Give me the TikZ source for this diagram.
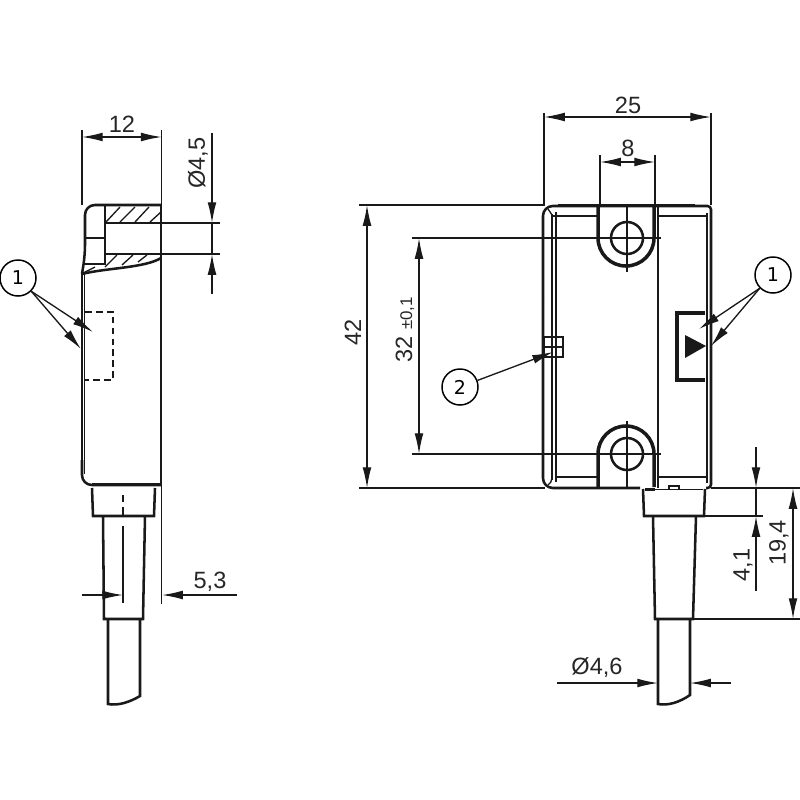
\documentclass[tikz,border=0pt]{standalone}
\usepackage{fontspec}
\setmainfont{Liberation Sans}
\newfontfamily\callfont{DejaVu Sans}
\usetikzlibrary{arrows.meta}
\tikzset{
 dimtip/.tip={Latex[length=5.9pt,width=2.5pt]},
 thinline/.style={line width=0.38pt,black!90},
 dimline/.style={line width=0.38pt,black!90},
 outline/.style={line width=0.72pt,black!90},
 heavy/.style={line width=1pt,black!90},
 dimtext/.style={font=\fontsize{6.7pt}{8pt}\selectfont,inner sep=0pt,text=black!85},
 callout/.style={draw,circle,line width=0.42pt,minimum size=0.36cm,inner sep=0pt,font=\callfont\fontsize{5.4pt}{6pt}\selectfont},
}
\begin{document}
\begin{tikzpicture}[x=0.01cm,y=-0.01cm]
\useasboundingbox(0,0)rectangle(800,800);

% side view
\draw[outline,rounded corners=2.8pt](82,274)--(85,255)--(85,205)--(161,205);
\draw[outline](82,274)--(82,470);
\draw[thinline](84.5,274)--(84.5,474);
\draw[outline,rounded corners=2.8pt](82,460)--(82,485)--(161,485);
\draw[outline](161,205)--(161,485);
\draw[thinline](92,483.5)--(160,483.5);
\draw[outline](105,205)--(105,264)--(84,264);
\draw[outline](105,223)--(161,223);
\draw[outline](105,254)--(161,254);
\draw[thinline](86,238)--(105,238);
\draw[outline](82,274).. controls(105,268)and(145,268)..(161,258);
\foreach\a/\b/\c/\d in{106/222/120/207,120/222/135/207,135/222/149/207,150/222/161/212,105/267/117/255,122/265/133/255,138/262/147/255,83/273/95/267}
 \draw[thinline](\a,\b)--(\c,\d);
\draw[thinline,dash pattern=on 1.9pt off 1.2pt](85,312)--(113,312)--(113,380)--(85,380);

% side view, cable
\draw[outline](92,488)--(93,516)--(154,516)--(155,488);
\draw[outline](103,516)--(104,619)--(143,619)--(145,516);
\draw[outline](108,619)--(108,704).. controls(118,706)and(130,702)..(140,696)--(140,619);
\draw[thinline,dash pattern=on 2pt off 1.4pt on 2.8pt off 2.6pt on 22pt](123,495)--(123,604);
\draw[thinline](161.7,485)--(161.7,604);

% front view
\draw[outline,rounded corners=2.8pt](600,206)--(543,206)--(543,300);
\draw[outline,rounded corners=2.8pt](543,300)--(543,488)--(640,488);
\draw[outline,rounded corners=1pt](600,206)--(711,206)--(711,488)--(706,488);
\draw[thinline](707,213)--(707,483);
\draw[heavy](558,205.5)--(695,205.5);
\draw[thinline](552,214)--(552,480);
\draw[thinline](556,212)--(556,482);
\draw[thinline](658,206)--(658,488);
\draw[thinline](552,215).. controls(550,212)and(549,210)..(548,209);
\draw[thinline](552,478).. controls(552,481)and(550,484)..(548,485);
\foreach\a/\b/\c in{552/598/216,658/707/216,556/598/477,658/707/477}
 \draw[thinline](\a,\c)--(\b,\c);
\draw[heavy](598,206)--(598,238)arc[start angle=180,end angle=0,radius=28]--(654,206);
\draw[heavy](598,487)--(598,454)arc[start angle=180,end angle=360,radius=28]--(654,487);
\foreach\y in{238,454}
 \draw[outline](627,\y)circle[radius=16];
\draw[thinline](627,206)--(627,272);
\draw[thinline](627,421)--(627,487);

% indicator and notch
\draw[heavy,line width=1.1pt](705,313)--(677,313)--(677,380)--(705,380);
\fill[black!90](685,335)--(685,358)--(706,346)--cycle;
\draw[outline](544,337)rectangle(563,357);
\draw[thinline](544,347)--(563,347);

% front view, cable
\draw[outline](643,489)--(644,516)--(704,516)--(705,489);
\draw[thinline](655,489.5)--(703,489.5);
\draw[heavy](645,489.5)--(655,489.5);
\draw[thinline](669,489)--(669,486)--(679,486)--(679,489);
\draw[outline](653,516)--(655,619)--(693,619)--(696,516);
\draw[outline](658,619)--(658,704).. controls(668,706)and(680,702)..(690,695)--(690,619);

% dimensions, side view
\draw[thinline](82,130)--(82,205);
\draw[thinline](161.7,130)--(161.7,205);
\draw[dimline,dimtip-dimtip](82,137)--(161.7,137);
\node[dimtext](lblTwelve)at(122,124){12};
\draw[thinline](161,223)--(220,223);
\draw[thinline](161,254)--(220,254);
\draw[dimline,-dimtip](212,133)--(212,223);
\draw[dimline,-dimtip](212,294)--(212,254);
\draw[dimline](212,223)--(212,254);
\node[dimtext,rotate=90](lblBore)at(198,163){Ø4,5};
\draw[dimline,-dimtip](82,595)--(123,595);
\draw[dimline,-dimtip](237,595)--(162,595);
\node[dimtext](lblOffset)at(210,582){5,3};

% dimensions, front view
\draw[thinline](544,113)--(544,205);
\draw[thinline](711,113)--(711,205);
\draw[dimline,dimtip-dimtip](544,117)--(711,117);
\node[dimtext](lblWidth)at(628,105){25};
\draw[thinline](600,155)--(600,205);
\draw[thinline](655,155)--(655,205);
\draw[dimline,dimtip-dimtip](600,162)--(655,162);
\node[dimtext](lblLug)at(628,148){8};
\draw[thinline](359,205)--(545,205);
\draw[thinline](359,488)--(545,488);
\draw[dimline,dimtip-dimtip](367,205)--(367,488);
\node[dimtext,rotate=90](lblHeight)at(353,332){42};
\draw[thinline](412,238)--(661,238);
\draw[thinline](412,454)--(661,454);
\draw[dimline,dimtip-dimtip](419,238)--(419,454);
\node[dimtext,rotate=90](lblPitch)at(405,330){32 {\fontsize{4.8pt}{6pt}\selectfont±0,1}};
\draw[thinline](711,488)--(800,488);
\draw[thinline](704,516)--(763,516);
\draw[thinline](693,619)--(800,619);
\draw[dimline,-dimtip](756,447)--(756,488);
\draw[dimline,-dimtip](756,591)--(756,516);
\draw[dimline](756,488)--(756,516);
\node[dimtext,rotate=90](lblGland)at(743,565){4,1};
\draw[dimline,dimtip-dimtip](793,488)--(793,619);
\node[dimtext,rotate=90](lblStrain)at(779,543){19,4};
\draw[dimline,-dimtip](557,683)--(658,683);
\draw[dimline,-dimtip](731,683)--(690,683);
\node[dimtext](lblCable)at(597,668){Ø4,6};

% callouts
\node[callout](sideOne)at(18,278){1};
\node[callout](frontOne)at(773,275){1};
\node[callout](frontTwo)at(460,387){2};
\coordinate(sideLed)at(93,332);
\coordinate(sideWall)at(81,349);
\coordinate(frontLed)at(699,329);
\coordinate(frontWall)at(711,346);
\coordinate(notch)at(553,352);
\draw[dimline,-dimtip](sideOne.south east)--(sideLed);
\draw[dimline,-dimtip](sideOne.south east)--(sideWall);
\draw[dimline,-dimtip](frontOne.south west)--(frontLed);
\draw[dimline,-dimtip](frontOne.south west)--(frontWall);
\draw[dimline,-dimtip](frontTwo)--(notch);
\end{tikzpicture}
\end{document}
